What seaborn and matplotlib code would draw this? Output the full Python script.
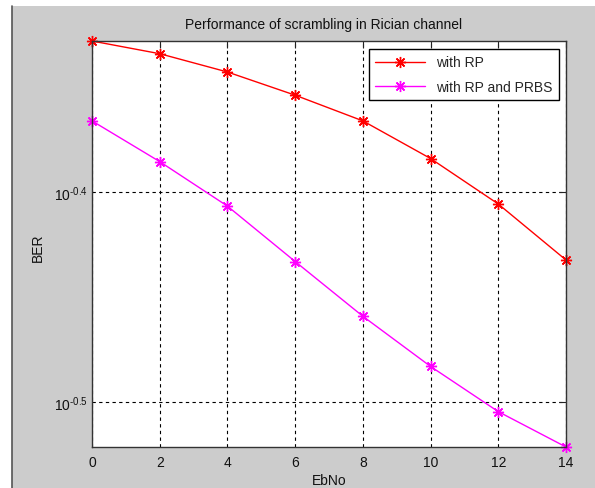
import numpy as np
import pandas as pd
import matplotlib
matplotlib.use("Agg")
import matplotlib.pyplot as plt
import seaborn as sns
from matplotlib.patches import Rectangle
from matplotlib.lines import Line2D

ebno = [0, 2, 4, 6, 8, 10, 12, 14]
ber_rp = [0.4699, 0.4634, 0.4542, 0.4428, 0.4305, 0.4131, 0.3930, 0.3696]
ber_rp_prbs = [0.4305, 0.4117, 0.3921, 0.3690, 0.3475, 0.3289, 0.3130, 0.3011]
series_names = ["with RP", "with RP and PRBS"]
ytick_vals = [10 ** -0.5, 10 ** -0.4]
ytick_labels = [r"$10^{\text{-0.5}}$", r"$10^{\text{-0.4}}$"]
xtick_vals = [0, 2, 4, 6, 8, 10, 12, 14]

sns.set_style("white")
plt.rcParams["font.family"] = ["Liberation Sans", "DejaVu Sans"]
plt.rcParams["mathtext.fontset"] = "custom"
plt.rcParams["mathtext.rm"] = "Liberation Sans"
plt.rcParams["mathtext.it"] = "Liberation Sans"

df = pd.DataFrame({
    "EbNo": ebno * 2,
    "BER": ber_rp + ber_rp_prbs,
    "series": [series_names[0]] * len(ebno) + [series_names[1]] * len(ebno),
})

W, H = 595, 489
fig = plt.figure(figsize=(W / 100, H / 100), dpi=100, facecolor="white")
# gray MATLAB figure background (screenshot crop leaves white strip at left/top)
fig.patches.append(Rectangle((12 / W, 0), 1 - 12 / W, 1 - 7 / H, transform=fig.transFigure,
                             facecolor="#cccccc", edgecolor="none", zorder=-2))
fig.lines.append(Line2D([12 / W, 12 / W], [0, 1 - 7 / H], transform=fig.transFigure,
                        color="#555555", lw=1.2, zorder=-1))

ax = fig.add_axes([92 / W, 1 - 448 / H, (566 - 92) / W, (448 - 42) / H])
ax.set_zorder(2)
ax.set_facecolor("white")

palette = {series_names[0]: "#ff0000", series_names[1]: "#ff00ff"}
sns.lineplot(data=df, x="EbNo", y="BER", hue="series", palette=palette, ax=ax,
             marker=(8, 2, 0), markersize=8, markeredgewidth=1.0, linewidth=1.0,
             legend=False, clip_on=False)
for ln in ax.get_lines():
    ln.set_markeredgecolor(ln.get_color())
    ln.set_markerfacecolor(ln.get_color())

ax.set_yscale("log")
ax.set_xlim(0, 14)
ax.set_ylim(min(ber_rp_prbs), max(ber_rp))
ax.yaxis.set_major_locator(matplotlib.ticker.FixedLocator(ytick_vals))
ax.yaxis.set_major_formatter(matplotlib.ticker.FixedFormatter(ytick_labels))
ax.yaxis.set_minor_locator(matplotlib.ticker.NullLocator())
ax.set_xticks(xtick_vals)
ax.set_xticklabels([str(v) for v in xtick_vals])

ax.tick_params(axis="both", which="major", direction="in", length=5, width=0.8,
               colors="#222222", labelsize=10, top=True, right=True)
ax.tick_params(axis="x", pad=6)
ax.tick_params(axis="y", pad=3)
for lab in ax.get_xticklabels() + ax.get_yticklabels():
    lab.set_color("#111111")

ax.grid(True, which="major", color="black", linestyle=(0, (3, 3)), linewidth=0.8)
for s in ax.spines.values():
    s.set_color("#333333")
    s.set_linewidth(1.0)

ax.set_xlabel("")
ax.set_ylabel("")
fig.text(329 / W, 1 - 481 / H, "EbNo", ha="center", va="center", fontsize=10, color="#111111")
fig.text(38 / W, 1 - 248 / H, "BER", ha="center", va="center", rotation=90, fontsize=10, color="#111111")
fig.text(324 / W, 1 - 25 / H, "Performance of scrambling in Rician channel",
         ha="center", va="center", fontsize=10, color="#111111")

handles = [Line2D([], [], color=palette[n], marker=(8, 2, 0), markersize=8, lw=1.0) for n in series_names]
leg = ax.legend(handles, series_names, loc="upper right", bbox_to_anchor=(0.985, 0.980),
                borderaxespad=0.0,
                fancybox=False, framealpha=1, edgecolor="black", fontsize=10,
                handlelength=3.6, borderpad=0.45, labelspacing=0.75, handletextpad=0.8)
leg.get_frame().set_linewidth(1.0)

fig.savefig("out.png", dpi=100, facecolor=fig.get_facecolor())
